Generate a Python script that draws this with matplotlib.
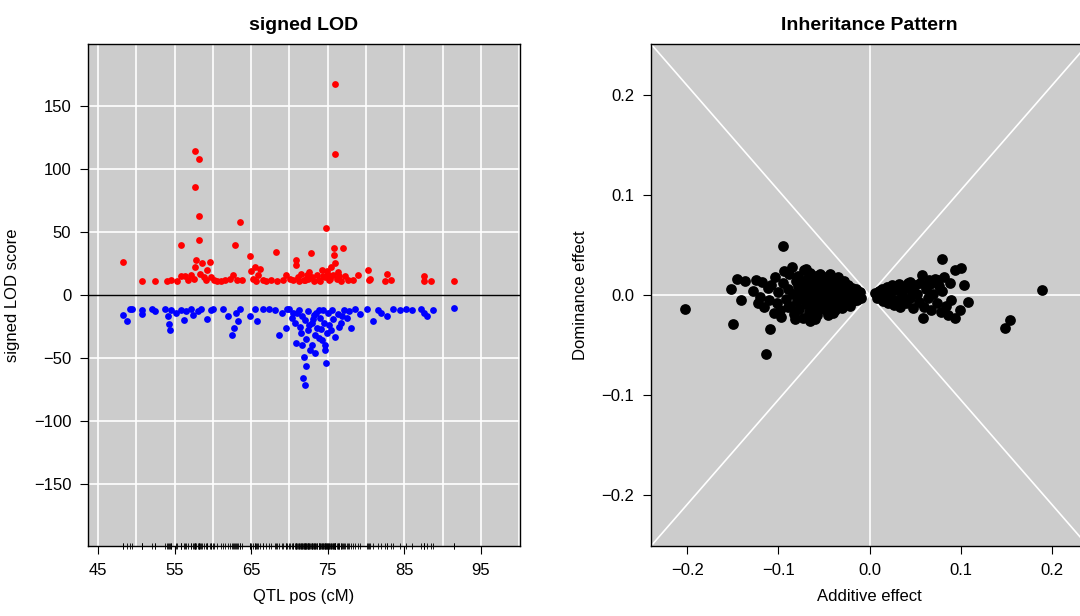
import matplotlib
matplotlib.use("Agg")
import matplotlib.pyplot as plt

plt.rcParams['font.family'] = ['Liberation Sans', 'DejaVu Sans']

# signed LOD panel: (position cM, signed LOD)
red_pts = [(48.3,26),(50.8,11),(52.5,11),(54.0,11),(54.6,12),(55.3,11),(55.8,15),(55.8,40),(56.4,15),
           (56.8,12),(57.2,16),(57.5,13),(57.7,22),(57.7,114),(57.7,86),(57.8,28),(58.2,108),(58.2,63),
           (58.2,44),(58.3,17),(58.6,25),(58.8,14),(59.1,12),(59.2,20),(59.6,26),(59.7,14),(60.1,12),
           (60.6,11),(61.0,11),(61.6,12),(62.2,13),(62.6,16),(62.9,40),(63.2,12),(63.5,58),(63.8,12),
           (64.9,31),(65.0,19),(65.2,13),(65.5,22),(65.6,11),(65.9,16),(66.2,21),(66.5,12),(67.0,11),
           (67.6,12),(68.2,34),(68.4,11),(69.1,12),(69.5,16),(70.5,12),(70.8,28),(70.8,24),(71.1,14),
           (71.5,17),(71.9,12),(72.3,16),(72.8,33),(72.6,18),(73.2,11),(73.6,16),(73.9,12),(74.2,20),
           (74.6,14),(74.8,53),(74.9,19),(75.1,12),(75.4,22),(75.7,16),(75.8,37),(75.8,32),(75.9,167),
           (75.9,112),(76.0,25),(76.2,13),(76.4,18),(76.7,11),(77.0,37),(77.3,15),(77.7,12),(78.3,12),
           (79.0,16),(80.3,20),(80.4,12),(80.5,13),(82.7,17),(82.5,11),(83.3,12),(87.6,15),(87.6,11),
           (88.5,11),(91.5,11),(72.0,12),(72.4,13),(73.0,14),(74.0,11),(74.4,15),(75.0,16),(75.3,13),
           (76.5,15),(71.3,11),(70.1,13)]
blue_pts = [(48.3,-16),(48.8,-21),(49.2,-11),(49.5,-11),(50.8,-12),(50.8,-15),(52.0,-11),(52.4,-13),
            (53.8,-11),(54.1,-17),(54.3,-23),(54.4,-28),(54.6,-12),(55.2,-14),(55.8,-12),(56.2,-20),
            (56.5,-13),(57.1,-11),(57.4,-16),(58.0,-13),(58.5,-11),(59.3,-19),(59.7,-12),(60.0,-11),
            (61.3,-11),(62.0,-17),(62.5,-32),(62.8,-26),(63.0,-14),(63.3,-21),(63.6,-11),(64.9,-17),
            (65.5,-11),(65.8,-21),(66.5,-11),(67.3,-11),(68.1,-12),(68.6,-32),(69.0,-14),(69.5,-26),
            (70.0,-11),(70.3,-18),(70.7,-22),(70.9,-38),(71.0,-14),(71.4,-25),(71.5,-30),(71.8,-66),
            (72.0,-71),(71.9,-49),(72.0,-20),(72.2,-35),(72.4,-13),(72.4,-28),(72.7,-44),(72.9,-22),
            (73.0,-40),(73.2,-16),(73.4,-32),(73.6,-26),(73.8,-12),(74.0,-18),(74.3,-36),(74.5,-22),
            (74.7,-44),(74.8,-54),(74.9,-30),(75.0,-14),(75.2,-24),(75.5,-12),(75.7,-19),(76.0,-33),
            (76.3,-15),(76.7,-22),(77.1,-12),(77.5,-18),(78.0,-26),(78.5,-11),(79.2,-15),(80.1,-11),
            (80.9,-21),(81.5,-12),(82.0,-14),(82.8,-17),(83.5,-11),(84.4,-12),(85.2,-11),(86.0,-12),
            (87.2,-11),(87.6,-14),(88.0,-17),(88.8,-12),(91.5,-10),(71.2,-12),(71.7,-17),(72.5,-24),
            (73.1,-19),(73.5,-14),(74.1,-27),(74.4,-12),(75.4,-28),(76.5,-25),(71.6,-40),(73.3,-46),
            (72.1,-56),(74.6,-40),(73.8,-34),(70.4,-14),(69.7,-11),(77.8,-13),(76.9,-17)]

# inheritance pattern panel: (additive, dominance)
effects = [(-0.203,-0.014),(0.190,0.005),(-0.095,0.049),(-0.114,-0.059),(-0.150,-0.029),(-0.109,-0.034),
           (-0.152,0.006),(-0.146,0.016),(-0.137,0.014),(-0.141,-0.005),(-0.125,0.015),(-0.118,0.013),
           (-0.128,0.004),(-0.120,-0.002),(-0.122,-0.008),(-0.116,-0.012),(-0.112,0.007),(-0.110,-0.005),
           (-0.108,0.010),(-0.104,0.018),(-0.102,-0.008),(-0.100,0.003),(-0.098,-0.015),(-0.097,-0.022),
           (-0.095,0.012),(-0.094,0.024),(-0.092,-0.004),(-0.090,0.006),(-0.088,0.021),(-0.087,-0.011),
           (-0.085,0.028),(-0.084,0.001),(-0.083,-0.019),(-0.081,0.014),(-0.080,-0.006),(-0.079,0.009),
           (-0.078,0.019),(-0.077,-0.014),(-0.076,0.003),(-0.075,-0.003),(-0.074,0.012),(-0.073,-0.023),
           (-0.072,0.025),(-0.071,0.006),(-0.070,-0.009),(-0.069,0.016),(-0.068,-0.001),(-0.067,0.010),
           (-0.066,-0.017),(-0.065,0.022),(-0.064,0.004),(-0.063,-0.006),(-0.062,0.013),(-0.061,-0.012),
           (-0.060,0.001),(-0.059,0.019),(-0.058,-0.020),(-0.057,0.008),(-0.056,-0.004),(-0.055,0.015),
           (-0.054,-0.014),(-0.053,0.003),(-0.052,0.011),(-0.051,-0.009),(-0.050,0.018),(-0.049,-0.002),
           (-0.048,0.006),(-0.047,-0.016),(-0.046,0.013),(-0.045,-0.006),(-0.044,0.002),(-0.043,0.016),
           (-0.042,-0.012),(-0.041,0.008),(-0.040,-0.003),(-0.039,0.012),(-0.038,-0.015),(-0.037,0.004),
           (-0.036,0.014),(-0.035,-0.009),(-0.034,0.001),(-0.033,0.010),(-0.032,-0.006),(-0.031,0.005),
           (-0.030,-0.013),(-0.029,0.012),(-0.028,-0.002),(-0.027,0.008),(-0.026,-0.009),(-0.025,0.003),
           (-0.024,0.010),(-0.023,-0.005),(-0.022,0.006),(-0.021,-0.011),(-0.020,0.002),(-0.019,0.007),
           (-0.018,-0.006),(-0.017,0.004),(-0.016,-0.002),(-0.015,0.006),(-0.014,-0.005),(-0.013,0.002),
           (-0.012,-0.002),(-0.010,0.003),(-0.009,-0.003),(-0.060,-0.024),(-0.046,-0.020),(-0.040,-0.018),
           (-0.054,0.021),(-0.070,0.026),(-0.082,-0.024),(-0.105,-0.018),(-0.090,-0.012),(-0.035,0.018),
           (-0.028,0.014),(-0.065,-0.026),(-0.043,0.021),
           (0.080,0.036),(0.094,0.025),(0.101,0.027),(0.104,0.010),(0.108,-0.007),(0.154,-0.025),
           (0.149,-0.033),(0.0935,-0.023),(0.099,-0.015),(0.059,-0.023),(0.006,0.002),(0.008,-0.003),
           (0.010,0.004),(0.012,-0.002),(0.014,0.006),(0.015,-0.006),(0.017,0.002),(0.019,0.008),
           (0.020,-0.008),(0.022,0.003),(0.024,-0.003),(0.025,0.010),(0.027,-0.010),(0.029,0.005),
           (0.031,-0.005),(0.032,0.011),(0.034,-0.012),(0.036,0.001),(0.038,0.008),(0.040,-0.008),
           (0.042,0.012),(0.044,-0.003),(0.046,0.005),(0.048,-0.013),(0.050,0.010),(0.052,0.001),
           (0.054,-0.007),(0.056,0.012),(0.058,0.020),(0.060,-0.012),(0.062,0.006),(0.064,-0.003),
           (0.066,0.011),(0.068,-0.015),(0.070,0.001),(0.072,0.016),(0.074,-0.008),(0.076,0.009),
           (0.078,-0.017),(0.080,0.004),(0.082,0.018),(0.084,-0.011),(0.086,-0.020),(0.088,0.012),
           (0.090,-0.005),(0.075,0.015),(0.065,0.015),(0.045,0.013)]

red_x = [p[0] for p in red_pts]
red_y = [p[1] for p in red_pts]
blue_x = [p[0] for p in blue_pts]
blue_y = [p[1] for p in blue_pts]
add_eff = [p[0] for p in effects]
dom_eff = [p[1] for p in effects]

bg = '#cccccc'
fig = plt.figure(figsize=(10.8, 6.16), dpi=100)

# ---- left panel
ax1 = fig.add_axes([88/1080, 70/616, 432/1080, 502/616])
ax1.set_facecolor(bg)
ax1.set_xlim(43.7, 100.1)
ax1.set_ylim(-199, 199)
for gx in range(45, 101, 5):
    ax1.axvline(gx, color='white', lw=1.2, zorder=1)
for gy in [-150, -100, -50, 50, 100, 150]:
    ax1.axhline(gy, color='white', lw=1.2, zorder=1)
ax1.axhline(0, color='black', lw=1, zorder=2)
ax1.scatter(red_x, red_y, s=24, color='red', zorder=3, linewidths=0)
ax1.scatter(blue_x, blue_y, s=24, color='blue', zorder=3, linewidths=0)
# rug of marker positions
ax1.plot(red_x + blue_x, [-199] * (len(red_x) + len(blue_x)), '|', color='black',
         markersize=5, markeredgewidth=0.6, clip_on=False, zorder=4)
ax1.set_xticks(range(45, 100, 10))
ax1.set_yticks([-150, -100, -50, 0, 50, 100, 150])
ax1.set_yticklabels(['\u2212150', '\u2212100', '\u221250', '0', '50', '100', '150'])
ax1.set_xlabel('QTL pos (cM)', fontsize=12, labelpad=8)
ax1.set_ylabel('signed LOD score', fontsize=12, labelpad=10)
ax1.set_title('signed LOD', fontsize=14, fontweight='bold', pad=10)

# ---- right panel
ax2 = fig.add_axes([651/1080, 70/616, 437/1080, 502/616])
ax2.set_facecolor(bg)
xl, yl = 0.24, 0.251
ax2.set_xlim(-xl, xl)
ax2.set_ylim(-yl, yl)
ax2.plot([-xl, xl], [yl, -yl], color='white', lw=1.2, zorder=1)
ax2.plot([-xl, xl], [-yl, yl], color='white', lw=1.2, zorder=1)
ax2.axhline(0, color='white', lw=1.2, zorder=1)
ax2.axvline(0, color='white', lw=1.2, zorder=1)
ax2.scatter(add_eff, dom_eff, s=60, color='black', zorder=3, linewidths=0)
ax2.set_xticks([-0.2, -0.1, 0.0, 0.1, 0.2])
ax2.set_xticklabels(['\u22120.2', '\u22120.1', '0.0', '0.1', '0.2'])
ax2.set_yticks([-0.2, -0.1, 0.0, 0.1, 0.2])
ax2.set_yticklabels(['\u22120.2', '\u22120.1', '0.0', '0.1', '0.2'])
ax2.set_xlabel('Additive effect', fontsize=12, labelpad=8)
ax2.set_ylabel('Dominance effect', fontsize=12, labelpad=10)
ax2.set_title('Inheritance Pattern', fontsize=14, fontweight='bold', pad=10)

for ax in (ax1, ax2):
    ax.tick_params(labelsize=12, length=6, pad=6, color='black')
    for s in ax.spines.values():
        s.set_color('black')
        s.set_linewidth(1)

fig.savefig('out.png', dpi=100)
